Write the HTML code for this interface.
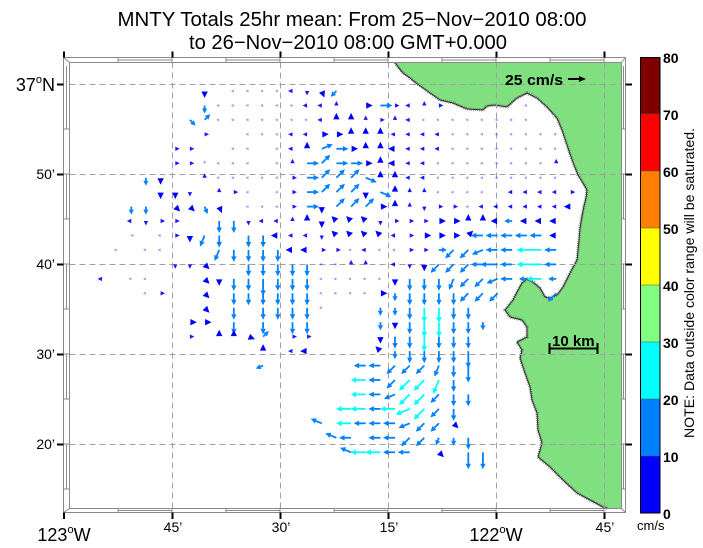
<!DOCTYPE html>
<html><head><meta charset="utf-8">
<style>
html,body{margin:0;padding:0;background:#fff;}
svg{display:block;font-family:"Liberation Sans",Arial,sans-serif;}
</style></head>
<body>
<svg id="s" width="703" height="548" viewBox="0 0 703 548" xmlns="http://www.w3.org/2000/svg">
<rect width="703" height="548" fill="#fff"/>
<!-- title -->
<text x="352" y="26" font-size="20" text-anchor="middle" textLength="469" lengthAdjust="spacingAndGlyphs">MNTY Totals 25hr mean: From 25−Nov−2010 08:00</text>
<text x="348" y="49" font-size="20" text-anchor="middle" textLength="318" lengthAdjust="spacingAndGlyphs">to 26−Nov−2010 08:00 GMT+0.000</text>

<!-- land -->
<path id="coast" d="M395,62.5 L398,67 L403,73 L410,78 L416,83 L423,88 L430,93 L440,100 L453,103 L467,109 L483,110 L487,106 L495,105 L507,107 L517,98 L527,93 L537,98 L547,107 L557,118 L562,130 L566,142 L570,154 L574,165 L578,175 L583,183 L587,190 L586,198 L584,206 L582,216 L580,228 L579,240 L578,250 L577,260 L570,273 L563,287 L557,295 L550,298 L545,297 L540,288 L533,282 L527,279 L522,283 L517,292 L513,300 L505,310 L510,317 L522,320 L527,327 L527,337 L517,342 L522,350 L520,358 L525,373 L530,387 L532,400 L537,413 L538,430 L542,443 L538,457 L550,467 L563,480 L577,493 L590,500 L603,507 L608,508.5" fill="none"/>
<path d="M395,62.5 L398,67 L403,73 L410,78 L416,83 L423,88 L430,93 L440,100 L453,103 L467,109 L483,110 L487,106 L495,105 L507,107 L517,98 L527,93 L537,98 L547,107 L557,118 L562,130 L566,142 L570,154 L574,165 L578,175 L583,183 L587,190 L586,198 L584,206 L582,216 L580,228 L579,240 L578,250 L577,260 L570,273 L563,287 L557,295 L550,298 L545,297 L540,288 L533,282 L527,279 L522,283 L517,292 L513,300 L505,310 L510,317 L522,320 L527,327 L527,337 L517,342 L522,350 L520,358 L525,373 L530,387 L532,400 L537,413 L538,430 L542,443 L538,457 L550,467 L563,480 L577,493 L590,500 L603,507 L608,508.5 L621.5,508.5 L621.5,62.5 Z" fill="#80e080"/>
<use href="#coast" stroke="#606060" stroke-width="3.2" stroke-dasharray="0.8 1.2" opacity="0.8"/>
<use href="#coast" stroke="#303030" stroke-width="1"/>

<!-- grid -->
<g stroke="#a0a0a0" stroke-width="1" stroke-dasharray="6 4" fill="none">
<path d="M172.5,62.5V508.5 M280.5,62.5V508.5 M388.5,62.5V508.5 M496.5,62.5V508.5 M604.5,62.5V508.5"/>
<path d="M69.5,84.5H621.5 M69.5,174.5H621.5 M69.5,264.5H621.5 M69.5,354.5H621.5 M69.5,444.5H621.5"/>
</g>

<g id="arrows"></g>

<!-- frame -->
<g stroke="#8a8a8a" stroke-width="1" fill="none">
<rect x="63.5" y="57.5" width="562" height="455"/>
<rect x="69.5" y="62.5" width="552" height="446"/>
<path d="M63.5,57.5L69.5,62.5 M625.5,57.5L621.5,62.5 M63.5,512.5L69.5,508.5 M625.5,512.5L621.5,508.5"/>
<path d="M118,60H172 M226,60H280 M334,60H388 M442,60H496 M550,60H604"/>
<path d="M118,510.5H172 M226,510.5H280 M334,510.5H388 M442,510.5H496 M550,510.5H604"/>
<path d="M66.5,66V129 M66.5,174V219 M66.5,264V309 M66.5,354V399 M66.5,444V489"/>
<path d="M623.5,66V129 M623.5,174V219 M623.5,264V309 M623.5,354V399 M623.5,444V489"/>
<path d="M118,57.5V62.5 M172,57.5V62.5 M226,57.5V62.5 M280,57.5V62.5 M334,57.5V62.5 M388,57.5V62.5 M442,57.5V62.5 M496,57.5V62.5 M550,57.5V62.5 M604,57.5V62.5"/>
<path d="M118,508.5V512.5 M172,508.5V512.5 M226,508.5V512.5 M280,508.5V512.5 M334,508.5V512.5 M388,508.5V512.5 M442,508.5V512.5 M496,508.5V512.5 M550,508.5V512.5 M604,508.5V512.5"/>
<path d="M63.5,129H69.5 M63.5,174H69.5 M63.5,219H69.5 M63.5,264H69.5 M63.5,309H69.5 M63.5,354H69.5 M63.5,399H69.5 M63.5,444H69.5 M63.5,489H69.5"/>
<path d="M621.5,129H625.5 M621.5,174H625.5 M621.5,219H625.5 M621.5,264H625.5 M621.5,309H625.5 M621.5,354H625.5 M621.5,399H625.5 M621.5,444H625.5 M621.5,489H625.5"/>
</g>

<!-- ticks -->
<g stroke="#000" stroke-width="2">
<path d="M64,51.5V57.5 M172.5,51.5V57.5 M280.5,51.5V57.5 M388.5,51.5V57.5 M496.5,51.5V57.5 M604.5,51.5V57.5"/>
<path d="M64,512.5V519 M172.5,512.5V519 M280.5,512.5V519 M388.5,512.5V519 M496.5,512.5V519 M604.5,512.5V519"/>
<path d="M57,84.5H63.5 M57,174.5H63.5 M57,264.5H63.5 M57,354.5H63.5 M57,444.5H63.5"/>
<path d="M625.5,84.5H632 M625.5,174.5H632 M625.5,264.5H632 M625.5,354.5H632 M625.5,444.5H632"/>
</g>

<!-- axis labels -->
<text x="55" y="91" font-size="18" text-anchor="end">37<tspan font-size="11" dy="-8">o</tspan><tspan dy="8">N</tspan></text>
<g font-size="14" text-anchor="end">
<text x="55" y="179">50’</text>
<text x="55" y="269">40’</text>
<text x="55" y="359">30’</text>
<text x="55" y="449">20’</text>
</g>
<text x="64" y="541" font-size="18" text-anchor="middle">123<tspan font-size="11" dy="-8">o</tspan><tspan dy="8">W</tspan></text>
<text x="496" y="541" font-size="18" text-anchor="middle">122<tspan font-size="11" dy="-8">o</tspan><tspan dy="8">W</tspan></text>
<g font-size="14" text-anchor="middle">
<text x="173" y="532">45’</text>
<text x="281" y="532">30’</text>
<text x="389" y="532">15’</text>
<text x="605" y="532">45’</text>
</g>

<!-- reference arrow -->
<text x="505" y="85" font-size="15" font-weight="bold" textLength="58" lengthAdjust="spacingAndGlyphs">25 cm/s</text>
<path d="M568,79H580" stroke="#000" stroke-width="2"/>
<path d="M586,79L579,76L579,82Z" fill="#000"/>

<!-- scale bar -->
<text x="552" y="346" font-size="15" font-weight="bold">10 km</text>
<path d="M549,348.5H598 M549.5,343V354 M597.5,343V354" stroke="#000" stroke-width="2"/>

<!-- colorbar -->
<g>
<rect x="640" y="57" width="20" height="57" fill="#800000"/>
<rect x="640" y="114" width="20" height="57" fill="#ff0000"/>
<rect x="640" y="171" width="20" height="57" fill="#ff8000"/>
<rect x="640" y="228" width="20" height="57" fill="#ffff00"/>
<rect x="640" y="285" width="20" height="57" fill="#80ff80"/>
<rect x="640" y="342" width="20" height="57" fill="#00ffff"/>
<rect x="640" y="399" width="20" height="57" fill="#0080ff"/>
<rect x="640" y="456" width="20" height="57" fill="#0000ff"/>
<path d="M640,114H660 M640,171H660 M640,228H660 M640,285H660 M640,342H660 M640,399H660 M640,456H660" stroke="#555" stroke-width="0.6"/>
<rect x="640.5" y="57.5" width="19.5" height="455.5" fill="none" stroke="#000" stroke-width="1"/>
</g>
<g font-size="14" font-weight="bold">
<text x="663" y="63">80</text>
<text x="663" y="120">70</text>
<text x="663" y="177">60</text>
<text x="663" y="234">50</text>
<text x="663" y="291">40</text>
<text x="663" y="348">30</text>
<text x="663" y="405">20</text>
<text x="663" y="462">10</text>
<text x="663" y="519">0</text>
</g>
<text x="637" y="530" font-size="13">cm/s</text>
<text transform="translate(694,438) rotate(-90)" font-size="14" textLength="310" lengthAdjust="spacingAndGlyphs">NOTE: Data outside color range will be saturated.</text>
</svg>
<script>
(function(){
var rows=[
"7:S:m 9:W:t 10:W:t 11:W:t 12:W:t 13:W:s 14:S:s 15:SSE:m 16:SW:k",
"7:S:k 8:W:t 9:W:t 10:W:t 11:W:t 12:W:t 13:W:t 14:W:s 15:W:s 16:N:s 18:E:m 19:E:b 20:E:s 21:W:s 22:N:s 23:E:s 29:W:t",
"6:SE:k 7:NE:k 8:W:t 9:W:t 10:W:t 11:W:t 12:W:t 13:W:t 14:W:t 15:W:s 16:N:m 17:N:m 18:N:s 19:E:s 20:N:s 21:W:s 22:W:t 23:W:t 24:W:t 25:W:t 26:W:t 27:W:t 28:W:t 29:W:t",
"7:E:s 10:W:t 11:W:t 12:W:t 13:W:s 14:W:s 15:E:m 16:E:m 17:N:m 18:N:m 19:N:m 20:W:s 21:W:s 22:W:s 23:W:s 24:W:t 25:W:t 26:W:t 27:W:t 28:W:t 29:W:t 30:W:t 31:W:t",
"5:E:s 6:E:s 9:W:t 10:W:t 12:W:t 13:W:s 14:N:m 15:ENE:b 16:E:b 17:E:m 18:N:m 19:N:m 20:W:m 21:W:s 22:W:s 23:W:s 24:W:t 25:W:t 26:W:t 27:W:t 28:W:t 29:W:t 30:W:t 31:W:t",
"5:E:s 6:E:s 7:N:t 8:W:t 9:W:t 10:W:t 12:W:t 13:N:s 14:E:b 15:NE:b 16:E:b 17:E:b 18:E:m 19:N:m 20:W:m 21:W:s 22:W:s 23:W:t 24:W:t 25:W:t 26:W:t 27:W:t 28:W:t 29:W:t 30:W:t 31:N:s",
"3:S:k 4:S:m 7:N:s 8:W:t 9:W:t 10:W:t 11:W:t 12:W:t 13:E:s 14:E:b 15:NE:b 16:NE:b 17:NE:b 18:ESE:b 19:N:m 20:N:m 21:W:s 22:W:s 23:W:t 24:W:t 25:W:t 26:W:t 27:W:t 28:W:t 29:W:t 30:W:t 31:W:t",
"4:S:m 5:S:m 6:S:s 8:N:s 9:E:s 10:W:t 12:W:t 13:E:s 14:E:b 15:NE:b 16:NE:b 17:NE:b 18:S:m 19:ESE:b 20:N:m 21:N:s 22:N:s 23:W:t 24:W:t 25:W:t 26:W:t 28:W:s 29:W:s 30:W:s 31:W:s 32:E:s",
"2:S:k 3:S:k 5:SE:m 6:SE:m 7:SSE:k 8:SSE:m 10:W:t 11:W:t 12:W:t 13:E:s 14:E:b 15:S:m 16:NE:b 17:NE:b 18:NE:b 19:E:m 20:N:m 21:N:s 22:S:s 23:E:s 24:E:s 25:W:t 26:W:s 27:W:s 28:W:s 29:W:s 30:W:s 31:W:s 32:W:m",
"2:W:s 3:S:s 4:E:s 5:E:s 8:S:b 9:S:b 10:S:s 11:W:s 12:W:s 13:N:s 14:N:m 15:S:m 16:NW:m 17:NW:m 18:NW:m 19:S:s 20:E:s 21:E:s 22:E:s 23:E:m 24:E:m 25:N:m 26:N:m 27:W:m 28:W:k 29:W:m 30:W:m 31:W:m",
"2:E:t 4:W:t 5:E:s 6:S:m 7:SSW:b 8:S:b 10:S:b 11:S:b 12:W:m 13:W:s 14:W:s 15:S:s 16:NW:m 17:NW:m 18:NW:m 19:NW:m 20:W:s 21:E:s 22:E:m 23:E:m 24:E:m 25:NE:m 26:W:b 27:W:b 28:W:b 29:W:b 30:W:b 31:W:m",
"1:W:t 3:W:t 4:W:t 8:SSW:b 9:S:b 10:S:b 11:S:b 12:S:b 13:W:m 14:W:m 15:E:s 16:E:s 17:W:t 18:W:s 19:W:t 20:W:t 21:E:s 22:E:s 23:E:k 24:SW:b 25:SW:b 26:WSW:b 27:W:b 28:W:b 30:W:C 31:W:b",
"5:S:s 6:S:s 7:SE:m 10:S:b 11:S:b 12:S:b 13:S:b 14:S:b 15:W:t 16:W:t 17:N:s 18:N:s 20:W:s 21:S:s 22:S:m 23:SW:b 24:SW:b 25:SW:b 26:W:b 27:W:B 28:W:b 30:W:C 31:W:b",
"0:W:s 2:W:t 3:W:t 7:SE:m 8:S:m 9:S:b 10:S:b 11:S:B 12:S:b 13:S:b 14:S:b 15:W:t 16:W:t 17:W:t 18:W:t 19:W:t 20:S:m 21:S:b 22:S:b 23:S:b 24:SSW:b 25:SW:b 26:SW:b 27:WSW:b 28:W:b 29:W:k 30:W:c 31:W:k",
"3:W:t 4:E:s 7:SE:m 9:S:b 10:S:b 11:S:b 12:S:b 13:S:b 14:S:b 15:W:t 16:W:t 17:W:t 18:W:t 19:E:m 20:S:k 21:S:b 22:S:b 23:S:b 24:S:b 25:SW:b 26:SW:b 27:SW:b 31:SW:b",
"7:SE:m 9:S:b 11:S:b 12:S:b 13:S:b 14:S:b 15:W:t 19:S:k 20:S:k 21:S:b 22:S:c 23:S:c 24:S:b 25:S:b",
"6:E:m 7:E:m 9:S:b 11:S:b 13:S:b 14:S:b 19:S:k 20:S:m 21:S:b 22:S:c 23:S:c 24:S:b 25:S:b 26:S:k",
"6:E:s 8:N:m 9:N:m 10:ESE:m 11:NE:k 13:E:s 14:E:s 19:S:m 20:S:b 21:S:b 22:S:c 23:S:b 24:S:b 25:S:b",
"11:N:m 13:W:s 14:W:m 19:NW:m 20:S:k 21:S:b 22:S:b 23:S:b 24:S:b 25:S:B",
"11:WSW:k 18:W:b 19:W:b 20:SW:b 21:SW:b 22:SW:b 23:SSW:b 24:S:b 25:S:B",
"18:W:c 19:W:b 20:SW:b 21:SW:c 22:SW:c 23:SSW:c 24:S:b",
"18:W:c 19:W:b 20:WSW:b 21:SW:c 22:SW:c 23:SW:b 24:S:b 25:S:b",
"17:W:c 18:W:c 19:W:b 20:W:c 21:WSW:c 22:SW:c 23:SW:b 24:S:b",
"15:WNW:b 17:W:c 18:W:b 19:W:b 20:W:b 21:WSW:b 22:SW:b 23:SW:b 24:SE:m",
"16:WNW:b 17:W:b 19:W:b 20:W:b 21:SW:b 22:SW:b 23:SSW:k 24:S:k 25:S:b",
"17:WNW:b 18:W:c 19:W:c 20:W:b 21:W:b 23:SE:m 25:S:B 26:S:B"
];
var DIR={E:0,ENE:22.5,NE:45,NNE:67.5,N:90,NNW:112.5,NW:135,WNW:157.5,W:180,WSW:202.5,SW:225,SSW:247.5,S:270,SSE:292.5,SE:315,ESE:337.5};
var SZ={t:[3,3,1.5,'#3030ff',0.5],s:[4.5,4.5,2.2,'#0000ff',0.9],m:[7,6.5,3.2,'#0000ff',1],k:[8,5,2.6,'#0080ff',1],b:[12,5.5,2.7,'#0080ff',1],B:[17,5.5,2.7,'#0080ff',1],c:[15,5.5,2.8,'#00ffff',1],C:[25,6,2.8,'#00ffff',1]};
var out='';
for(var j=0;j<rows.length;j++){
  var toks=rows[j].split(' ');
  for(var k=0;k<toks.length;k++){
    var p=toks[k].split(':'); if(p.length<3)continue;
    var i=+p[0], a=DIR[p[1]]*Math.PI/180, sz=SZ[p[2]];
    var x0=102+14.65*i, y0=91+14.45*j;
    var ux=Math.cos(a), uy=-Math.sin(a);
    var L=sz[0],h=sz[1],w=sz[2],col=sz[3],op=sz[4];
    var tx=x0+L*ux, ty=y0+L*uy;
    var bx=tx-h*ux, by=ty-h*uy;
    var nx=-uy, ny=ux;
    if(L>h+0.5){
      out+='<line x1="'+x0.toFixed(1)+'" y1="'+y0.toFixed(1)+'" x2="'+bx.toFixed(1)+'" y2="'+by.toFixed(1)+'" stroke="'+col+'" stroke-width="1.8" opacity="'+op+'"/>';
    }
    out+='<polygon points="'+tx.toFixed(1)+','+ty.toFixed(1)+' '+(bx+w*nx).toFixed(1)+','+(by+w*ny).toFixed(1)+' '+(bx-w*nx).toFixed(1)+','+(by-w*ny).toFixed(1)+'" fill="'+col+'" opacity="'+op+'"/>';
  }
}
document.getElementById('arrows').innerHTML=out;
})();
</script>
</body></html>
